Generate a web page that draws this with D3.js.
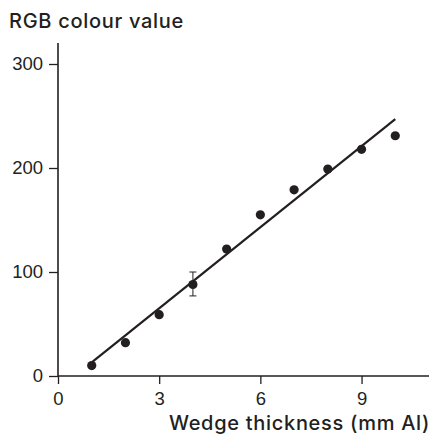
<!DOCTYPE html>
<html>
<head>
<meta charset="utf-8">
<script src="https://cdn.jsdelivr.net/npm/d3@7"></script>
<style>
  body { margin: 0; background: #fff; }
  text { font-family: "Liberation Sans", Arial, sans-serif; fill: #231f20; }
  .lbl { font-family: Inter, "Liberation Sans", sans-serif; font-size: 20px; font-weight: 500; letter-spacing: 0.7px; }
</style>
</head>
<body>
<svg id="chart" width="436" height="439"></svg>
<script>
// wedge thickness (mm Al) and measured RGB value
var thickness = [1, 2, 3, 4, 5, 6, 7, 8, 9, 10];
var rgbValue = [10, 32, 59, 88, 122, 155, 179, 199, 218, 231];
// only the 4 mm step shows an error bar
var errLow = [null, null, null, 77, null, null, null, null, null, null];
var errHigh = [null, null, null, 100, null, null, null, null, null, null];
// fitted line end points
var fitX = [1, 10];
var fitY = [13, 247];
var xTicks = [0, 3, 6, 9];
var yTicks = [0, 100, 200, 300];

var svg = d3.select("#chart");

var x = d3.scaleLinear().domain([0, 11]).range([58, 429]);
var y = d3.scaleLinear().domain([0, 300]).range([376, 64]);
var ink = "#231f20";

// axes
var xAxis = svg.append("g")
    .attr("transform", "translate(0," + y(0) + ")")
    .call(d3.axisBottom(x).tickValues(xTicks).tickSize(8).tickPadding(8).tickSizeOuter(0));
var yAxis = svg.append("g")
    .attr("transform", "translate(" + x(0) + ",0)")
    .call(d3.axisLeft(y).tickValues(yTicks).tickSize(9).tickPadding(6).tickSizeOuter(0));

[xAxis, yAxis].forEach(function(a) {
    a.select(".domain").remove();
    a.selectAll(".tick line").attr("stroke", ink).attr("stroke-width", 1.3);
    a.selectAll(".tick text").style("font-size", "18.5px").attr("fill", ink);
});

// axis lines drawn separately so they extend past the ticks
svg.append("line")
    .attr("x1", x(0)).attr("x2", x(11))
    .attr("y1", y(0)).attr("y2", y(0))
    .attr("stroke", ink).attr("stroke-width", 1.6);
svg.append("line")
    .attr("x1", x(0)).attr("x2", x(0))
    .attr("y1", 43).attr("y2", y(0))
    .attr("stroke", ink).attr("stroke-width", 1.6);

// fitted line
svg.append("line")
    .attr("x1", x(fitX[0])).attr("y1", y(fitY[0]))
    .attr("x2", x(fitX[1])).attr("y2", y(fitY[1]))
    .attr("stroke", ink).attr("stroke-width", 2.2);

// error bars
thickness.forEach(function(t, i) {
    if (errLow[i] == null) return;
    var g = svg.append("g").attr("stroke", ink).attr("stroke-width", 1);
    g.append("line").attr("x1", x(t)).attr("x2", x(t)).attr("y1", y(errLow[i])).attr("y2", y(errHigh[i]));
    g.append("line").attr("x1", x(t) - 3.5).attr("x2", x(t) + 3.5).attr("y1", y(errLow[i])).attr("y2", y(errLow[i]));
    g.append("line").attr("x1", x(t) - 3.5).attr("x2", x(t) + 3.5).attr("y1", y(errHigh[i])).attr("y2", y(errHigh[i]));
});

// points
svg.selectAll("circle.pt")
    .data(thickness)
    .enter().append("circle")
    .attr("class", "pt")
    .attr("cx", function(d) { return x(d); })
    .attr("cy", function(d, i) { return y(rgbValue[i]); })
    .attr("r", 4.6)
    .attr("fill", ink);

// labels
svg.append("text")
    .attr("class", "lbl")
    .attr("x", 9).attr("y", 28)
    .text("RGB colour value");
svg.append("text")
    .attr("class", "lbl")
    .attr("x", 430).attr("y", 430)
    .attr("text-anchor", "end")
    .text("Wedge thickness (mm Al)");
</script>
</body>
</html>
